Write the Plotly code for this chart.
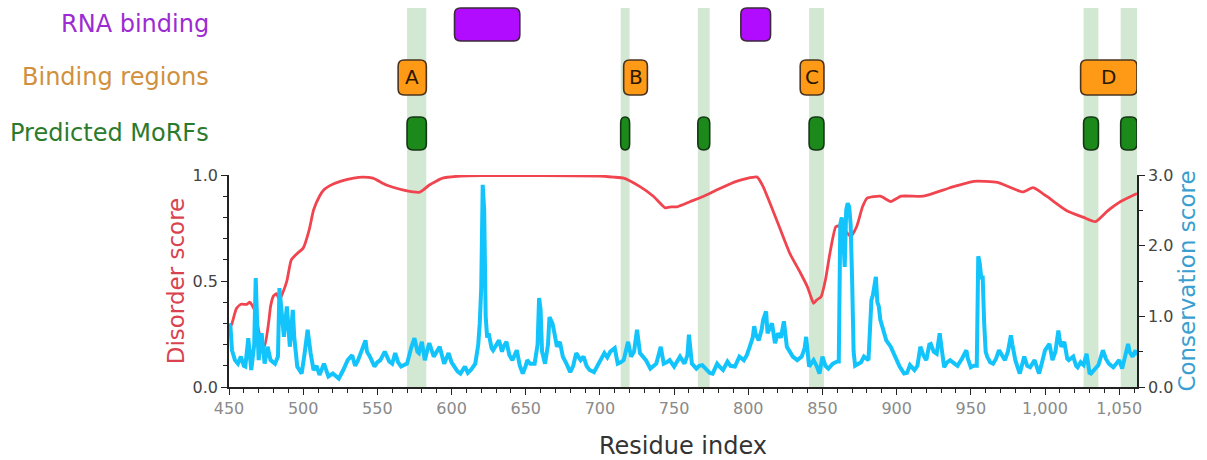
import plotly.graph_objects as go

# ---------------- data ----------------
dis_res = [450, 452, 455, 458, 462, 464, 466, 468, 469, 471, 474, 477, 478, 480, 482, 484, 486, 489, 492, 496,
           500, 504, 507, 511, 514, 518, 525, 534, 540, 547, 556, 567, 574, 578, 581, 585, 594, 606, 620, 660,
           700, 709, 716, 727, 736, 744, 748, 752, 761, 770, 779, 792, 806, 810, 819, 828, 835, 840, 842, 844,
           846, 849, 852, 855, 859, 862, 865, 869, 873, 877, 880, 889, 896, 903, 918, 936, 952, 968, 985, 992,
           1001, 1015, 1026, 1034, 1042, 1051, 1062]
dis_val = [0.27, 0.30, 0.37, 0.39, 0.39, 0.40, 0.38, 0.35, 0.30, 0.24, 0.19, 0.32, 0.38, 0.43, 0.44, 0.41, 0.44, 0.50, 0.60, 0.63,
           0.655, 0.74, 0.835, 0.90, 0.93, 0.95, 0.97, 0.985, 0.99, 0.985, 0.953, 0.93, 0.92, 0.918, 0.93, 0.953, 0.985, 0.995, 0.997, 0.997,
           0.995, 0.99, 0.985, 0.945, 0.90, 0.845, 0.85, 0.85, 0.875, 0.90, 0.93, 0.97, 0.99, 0.945, 0.79, 0.63, 0.54, 0.47, 0.43, 0.395,
           0.41, 0.425, 0.505, 0.63, 0.756, 0.76, 0.74, 0.71, 0.756, 0.85, 0.89, 0.90, 0.875, 0.90, 0.90, 0.94, 0.97, 0.965, 0.92, 0.94,
           0.90, 0.83, 0.80, 0.78, 0.83, 0.875, 0.913]

con_res = [450, 451, 452, 454, 456, 458, 460, 461, 463, 465, 467, 468, 469, 470, 472, 474, 476, 478, 481, 483,
           484, 485, 486, 487, 489, 490, 491, 493, 494, 496, 499, 501, 503, 505, 507, 509, 511, 514, 517, 520,
           522, 524, 527, 530, 533, 535, 537, 540, 542, 543, 545, 548, 550, 552, 555, 558, 560, 562, 564, 566,
           570, 573, 575, 577, 578, 580, 582, 584, 585, 588, 590, 592, 595, 598, 600, 602, 604, 606, 609, 611,
           613, 616, 617, 618, 619, 620, 621, 622, 623, 624, 625, 627, 628, 630, 632, 634, 635, 637, 639, 641,
           644, 646, 648, 650, 651, 653, 656, 658, 659, 660, 661, 663, 665, 666, 668, 669, 671, 673, 675, 677,
           680, 682, 684, 687, 689, 691, 693, 696, 699, 701, 703, 705, 707, 710, 712, 714, 716, 719, 721, 723,
           725, 727, 729, 731, 734, 736, 738, 741, 743, 745, 747, 750, 752, 754, 757, 759, 760, 761, 762, 765,
           767, 769, 772, 774, 776, 779, 781, 783, 786, 788, 791, 794, 797, 799, 801, 803, 804, 805, 807, 809,
           810, 812, 813, 814, 816, 818, 820, 822, 824, 826, 828, 830, 833, 836, 838, 839, 841, 843, 844, 846,
           848, 850, 852, 854, 857, 860, 861, 862, 863, 864, 865, 866, 867, 868, 869, 870, 871, 872, 874, 876,
           878, 881, 882, 883, 884, 886, 887, 888, 889, 891, 893, 896, 898, 900, 902, 905, 907, 909, 912, 914,
           916, 918, 920, 922, 923, 925, 927, 929, 930, 932, 934, 936, 939, 941, 944, 947, 948, 950, 952, 954,
           955, 956, 957, 958, 959, 960, 961, 963, 965, 967, 969, 971, 973, 975, 977, 978, 980, 982, 983, 986,
           988, 990, 993, 995, 996, 998, 1000, 1003, 1005, 1007, 1009, 1010, 1011, 1013, 1015, 1016, 1019, 1021, 1022, 1024,
           1026, 1028, 1030, 1031, 1033, 1036, 1039, 1041, 1043, 1046, 1048, 1050, 1052, 1054, 1056, 1057, 1059, 1061, 1062]
con_val = [0.90, 0.85, 0.52, 0.38, 0.33, 0.43, 0.30, 0.29, 0.69, 0.24, 0.60, 1.54, 0.90, 0.38, 0.76, 0.33, 0.57, 0.38, 0.33, 0.43,
           1.40, 1.20, 0.90, 0.71, 1.14, 0.80, 0.57, 1.09, 0.70, 0.29, 0.19, 0.48, 0.81, 0.48, 0.24, 0.30, 0.17, 0.33, 0.15, 0.19,
           0.15, 0.12, 0.24, 0.38, 0.45, 0.30, 0.38, 0.57, 0.66, 0.50, 0.43, 0.29, 0.35, 0.38, 0.50, 0.36, 0.33, 0.48, 0.35, 0.29,
           0.33, 0.57, 0.69, 0.50, 0.48, 0.64, 0.38, 0.55, 0.62, 0.43, 0.50, 0.57, 0.33, 0.48, 0.35, 0.27, 0.22, 0.19, 0.29, 0.20,
           0.24, 0.33, 0.45, 0.60, 0.90, 1.40, 2.86, 2.50, 1.00, 0.70, 0.76, 0.55, 0.52, 0.60, 0.66, 0.50, 0.57, 0.64, 0.45, 0.38,
           0.52, 0.30, 0.19, 0.30, 0.38, 0.33, 0.33, 0.60, 1.26, 1.10, 0.50, 0.33, 0.60, 0.99, 0.90, 0.80, 0.57, 0.64, 0.43, 0.35,
           0.21, 0.30, 0.48, 0.38, 0.43, 0.30, 0.24, 0.21, 0.33, 0.40, 0.48, 0.42, 0.50, 0.55, 0.33, 0.35, 0.38, 0.64, 0.43, 0.50,
           0.81, 0.48, 0.42, 0.38, 0.26, 0.30, 0.33, 0.57, 0.33, 0.35, 0.38, 0.29, 0.35, 0.43, 0.33, 0.45, 0.74, 0.50, 0.33, 0.26,
           0.30, 0.31, 0.24, 0.20, 0.19, 0.33, 0.28, 0.24, 0.36, 0.30, 0.29, 0.43, 0.38, 0.45, 0.57, 0.70, 0.86, 0.75, 0.66, 0.81,
           0.95, 1.07, 0.76, 0.80, 0.90, 0.62, 0.76, 0.70, 0.93, 0.57, 0.50, 0.43, 0.38, 0.43, 0.55, 0.71, 0.29, 0.35, 0.38, 0.30,
           0.19, 0.43, 0.30, 0.26, 0.33, 0.36, 0.36, 2.30, 2.40, 2.10, 1.70, 2.50, 2.60, 2.55, 2.30, 1.50, 0.50, 0.30, 0.33, 0.35,
           0.43, 0.38, 0.80, 1.23, 1.30, 1.56, 1.20, 1.14, 0.95, 0.81, 0.66, 0.57, 0.48, 0.40, 0.29, 0.19, 0.20, 0.31, 0.24, 0.30,
           0.57, 0.45, 0.38, 0.60, 0.61, 0.50, 0.47, 0.76, 0.60, 0.28, 0.35, 0.38, 0.33, 0.30, 0.40, 0.52, 0.40, 0.28, 0.30, 0.30,
           1.85, 1.75, 1.55, 1.55, 0.90, 0.50, 0.43, 0.35, 0.33, 0.40, 0.52, 0.45, 0.38, 0.50, 0.73, 0.60, 0.38, 0.25, 0.19, 0.43,
           0.30, 0.28, 0.38, 0.25, 0.19, 0.35, 0.52, 0.61, 0.38, 0.50, 0.80, 0.65, 0.57, 0.64, 0.40, 0.38, 0.43, 0.30, 0.28, 0.35,
           0.31, 0.47, 0.20, 0.19, 0.24, 0.31, 0.52, 0.40, 0.33, 0.28, 0.33, 0.38, 0.26, 0.47, 0.61, 0.50, 0.43, 0.52, 0.45]

rna_start = [602, 795]
rna_end = [646, 815]

bind_labels = ["A", "B", "C", "D"]
bind_start = [564, 716, 835, 1024]
bind_end = [583, 732, 851, 1062]

morf_start = [570, 714, 766, 841, 1026, 1051]
morf_end = [583, 720, 774, 851, 1036, 1062]

x_min, x_max = 450, 1062

# ---------------- styling helpers ----------------
PLOT_H = 212.0            # plot-area height in px
PX_PER_RES = 908.0 / (x_max - x_min)
FONT = "DejaVu Sans"


def py(pix_from_bottom):
    """convert pixel offset above plot bottom to paper units"""
    return pix_from_bottom / PLOT_H


def rrect(x0, x1, y0, y1, r_px=6):
    rx = min(r_px / PX_PER_RES, (x1 - x0) / 2.0)
    ry = min(r_px / PLOT_H, (y1 - y0) / 2.0)
    return (f"M {x0 + rx},{y0} L {x1 - rx},{y0} Q {x1},{y0} {x1},{y0 + ry} "
            f"L {x1},{y1 - ry} Q {x1},{y1} {x1 - rx},{y1} L {x0 + rx},{y1} "
            f"Q {x0},{y1} {x0},{y1 - ry} L {x0},{y0 + ry} Q {x0},{y0} {x0 + rx},{y0} Z")


fig = go.Figure()

fig.add_trace(go.Scatter(x=dis_res, y=dis_val, mode="lines", yaxis="y",
                         line=dict(color="#f0444f", width=2.8, shape="spline", smoothing=0.5),
                         showlegend=False, hoverinfo="skip"))
fig.add_trace(go.Scatter(x=con_res, y=con_val, mode="lines", yaxis="y2",
                         line=dict(color="#12c4fb", width=4),
                         showlegend=False, hoverinfo="skip"))

shapes = []
band_top = py(387 - 8)
for s, e in zip(morf_start, morf_end):
    shapes.append(dict(type="rect", xref="x", yref="paper", x0=s, x1=e, y0=0, y1=band_top,
                       fillcolor="#d3e8d3", line=dict(width=0), layer="below"))

ry0, ry1 = py(387 - 41), py(387 - 8)
for s, e in zip(rna_start, rna_end):
    shapes.append(dict(type="path", xref="x", yref="paper", path=rrect(s, e, ry0, ry1),
                       fillcolor="#b10cff", line=dict(color="#3b2a3b", width=1.6), layer="above"))

by0, by1 = py(387 - 95), py(387 - 60)
for s, e in zip(bind_start, bind_end):
    shapes.append(dict(type="path", xref="x", yref="paper", path=rrect(s, e, by0, by1),
                       fillcolor="#ff9a16", line=dict(color="#4a3420", width=1.6), layer="above"))

my0, my1 = py(387 - 150), py(387 - 117)
for s, e in zip(morf_start, morf_end):
    shapes.append(dict(type="path", xref="x", yref="paper", path=rrect(s, e, my0, my1),
                       fillcolor="#1b8a1b", line=dict(color="#163516", width=1.6), layer="above"))

annotations = []
for lab, s, e in zip(bind_labels, bind_start, bind_end):
    annotations.append(dict(x=(s + e) / 2.0, y=(by0 + by1) / 2.0, xref="x", yref="paper",
                            text=lab, showarrow=False, font=dict(family=FONT, size=20, color="#2a1800"),
                            xanchor="center", yanchor="middle"))

row_labels = [("RNA binding", "#9c2bd2", (ry0 + ry1) / 2.0),
              ("Binding regions", "#d0903e", (by0 + by1) / 2.0),
              ("Predicted MoRFs", "#2c7a2c", (my0 + my1) / 2.0)]
for txt, col, yy in row_labels:
    annotations.append(dict(x=-18 / 908.0, y=yy, xref="paper", yref="paper", text=txt, showarrow=False,
                            xanchor="right", yanchor="middle", font=dict(family=FONT, size=24, color=col)))

common_axis = dict(showgrid=False, zeroline=False, automargin=False,
                   showline=True, linecolor="#222222", linewidth=1.5,
                   ticks="outside", tickcolor="#222222", ticklen=6, tickwidth=1.3)

fig.update_layout(
    width=1207, height=460,
    margin=dict(l=229, r=70, t=175, b=73),
    paper_bgcolor="white", plot_bgcolor="white",
    shapes=shapes, annotations=annotations,
    font=dict(family=FONT, size=16, color="#444444"),
    xaxis=dict(range=[x_min, x_max], **common_axis,
               dtick=50, tick0=450, tickformat=",d",
               minor=dict(ticks="outside", dtick=10, tick0=450, ticklen=4, tickcolor="#222222", tickwidth=1),
               title=dict(text="Residue index", font=dict(family=FONT, size=24, color="#333333"), standoff=22),
               tickfont=dict(family=FONT, size=16, color="#8a8a8a")),
    yaxis=dict(range=[0, 1.0], **common_axis,
               dtick=0.5, tick0=0, tickformat=".1f",
               minor=dict(ticks="outside", dtick=0.1, tick0=0, ticklen=4, tickcolor="#222222", tickwidth=1),
               title=dict(text="Disorder score", font=dict(family=FONT, size=23, color="#d9434f"), standoff=2),
               tickfont=dict(family=FONT, size=16, color="#444444")),
    yaxis2=dict(range=[0, 3.0], overlaying="y", side="right", **common_axis,
                dtick=1.0, tick0=0, tickformat=".1f",
                minor=dict(ticks="outside", dtick=0.5, tick0=0, ticklen=4, tickcolor="#222222", tickwidth=1),
                title=dict(text="Conservation score", font=dict(family=FONT, size=23, color="#3a9fd0"), standoff=6),
                tickfont=dict(family=FONT, size=16, color="#444444")),
)

fig.write_html("out.html", config={"displayModeBar": False},
               post_script="document.body.style.margin='0';document.body.style.overflow='hidden';")
